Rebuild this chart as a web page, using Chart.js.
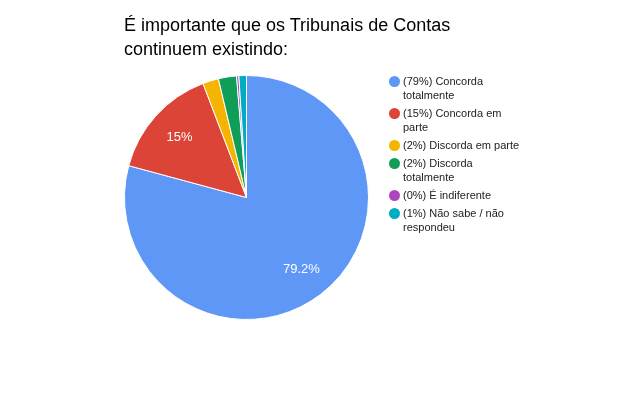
<!DOCTYPE html>
<html>
<head>
<meta charset="utf-8">
<script src="https://cdn.jsdelivr.net/npm/chart.js@4.4.1/dist/chart.umd.min.js"></script>
<style>
html,body{margin:0;padding:0;background:#fff;}
#wrap{position:relative;width:641px;height:396px;overflow:hidden;}
#title{position:absolute;left:124px;top:13px;font-family:"Liberation Sans",Arial,sans-serif;font-size:18px;line-height:24px;color:#000;}
#legend{position:absolute;left:389px;top:74px;font-family:"Liberation Sans",Arial,sans-serif;font-size:11px;line-height:14px;color:#222;}
.item{position:relative;padding-left:14px;width:120px;margin-bottom:4px;}
.dot{position:absolute;left:0;top:2px;width:11px;height:11px;border-radius:50%;}
canvas{position:absolute;left:0;top:0;}
</style>
</head>
<body>
<div id="wrap">
<canvas id="c" width="641" height="396"></canvas>
<div id="title">É importante que os Tribunais de Contas<br>continuem existindo:</div>
<div id="legend"></div>
</div>
<script>
const categories = ["Concorda totalmente","Concorda em parte","Discorda em parte","Discorda totalmente","É indiferente","Não sabe / não respondeu"];
const values = [79.2, 15.0, 2.1, 2.4, 0.3, 1.0];
const colors = ["#5e97f6","#db4437","#f4b400","#0f9d58","#ab47bc","#00acc1"];

const legend = document.getElementById('legend');
categories.forEach((c,i)=>{
  const d = document.createElement('div'); d.className='item';
  const dot = document.createElement('span'); dot.className='dot'; dot.style.background=colors[i];
  d.appendChild(dot);
  d.appendChild(document.createTextNode('(' + Math.round(values[i]) + '%) ' + c));
  legend.appendChild(d);
});

const sliceLabels = {
  id:'sliceLabels',
  afterDatasetsDraw(chart){
    const ctx = chart.ctx;
    const meta = chart.getDatasetMeta(0);
    const total = values.reduce((a,b)=>a+b,0);
    ctx.save();
    ctx.fillStyle='#fff';
    ctx.font='13px "Liberation Sans", Arial, sans-serif';
    ctx.textAlign='center'; ctx.textBaseline='middle';
    meta.data.forEach((arc,i)=>{
      const pct = values[i]/total*100;
      if (pct < 5) return;
      const p = arc.getProps(['x','y','startAngle','endAngle','outerRadius'], true);
      const mid = (p.startAngle+p.endAngle)/2;
      const r = p.outerRadius*0.74;
      let txt = (Math.round(pct*10)/10).toString() + '%';
      ctx.fillText(txt, p.x + Math.cos(mid)*r, p.y + Math.sin(mid)*r);
    });
    ctx.restore();
  }
};

new Chart(document.getElementById('c'), {
  type:'pie',
  data:{labels:categories, datasets:[{data:values, backgroundColor:colors, borderColor:'#fff', borderWidth:1}]},
  options:{
    responsive:false, animation:false,
    layout:{padding:{top:75,bottom:76,left:124,right:272}},
    plugins:{legend:{display:false}, tooltip:{enabled:false}}
  },
  plugins:[sliceLabels]
});
</script>
</body>
</html>
